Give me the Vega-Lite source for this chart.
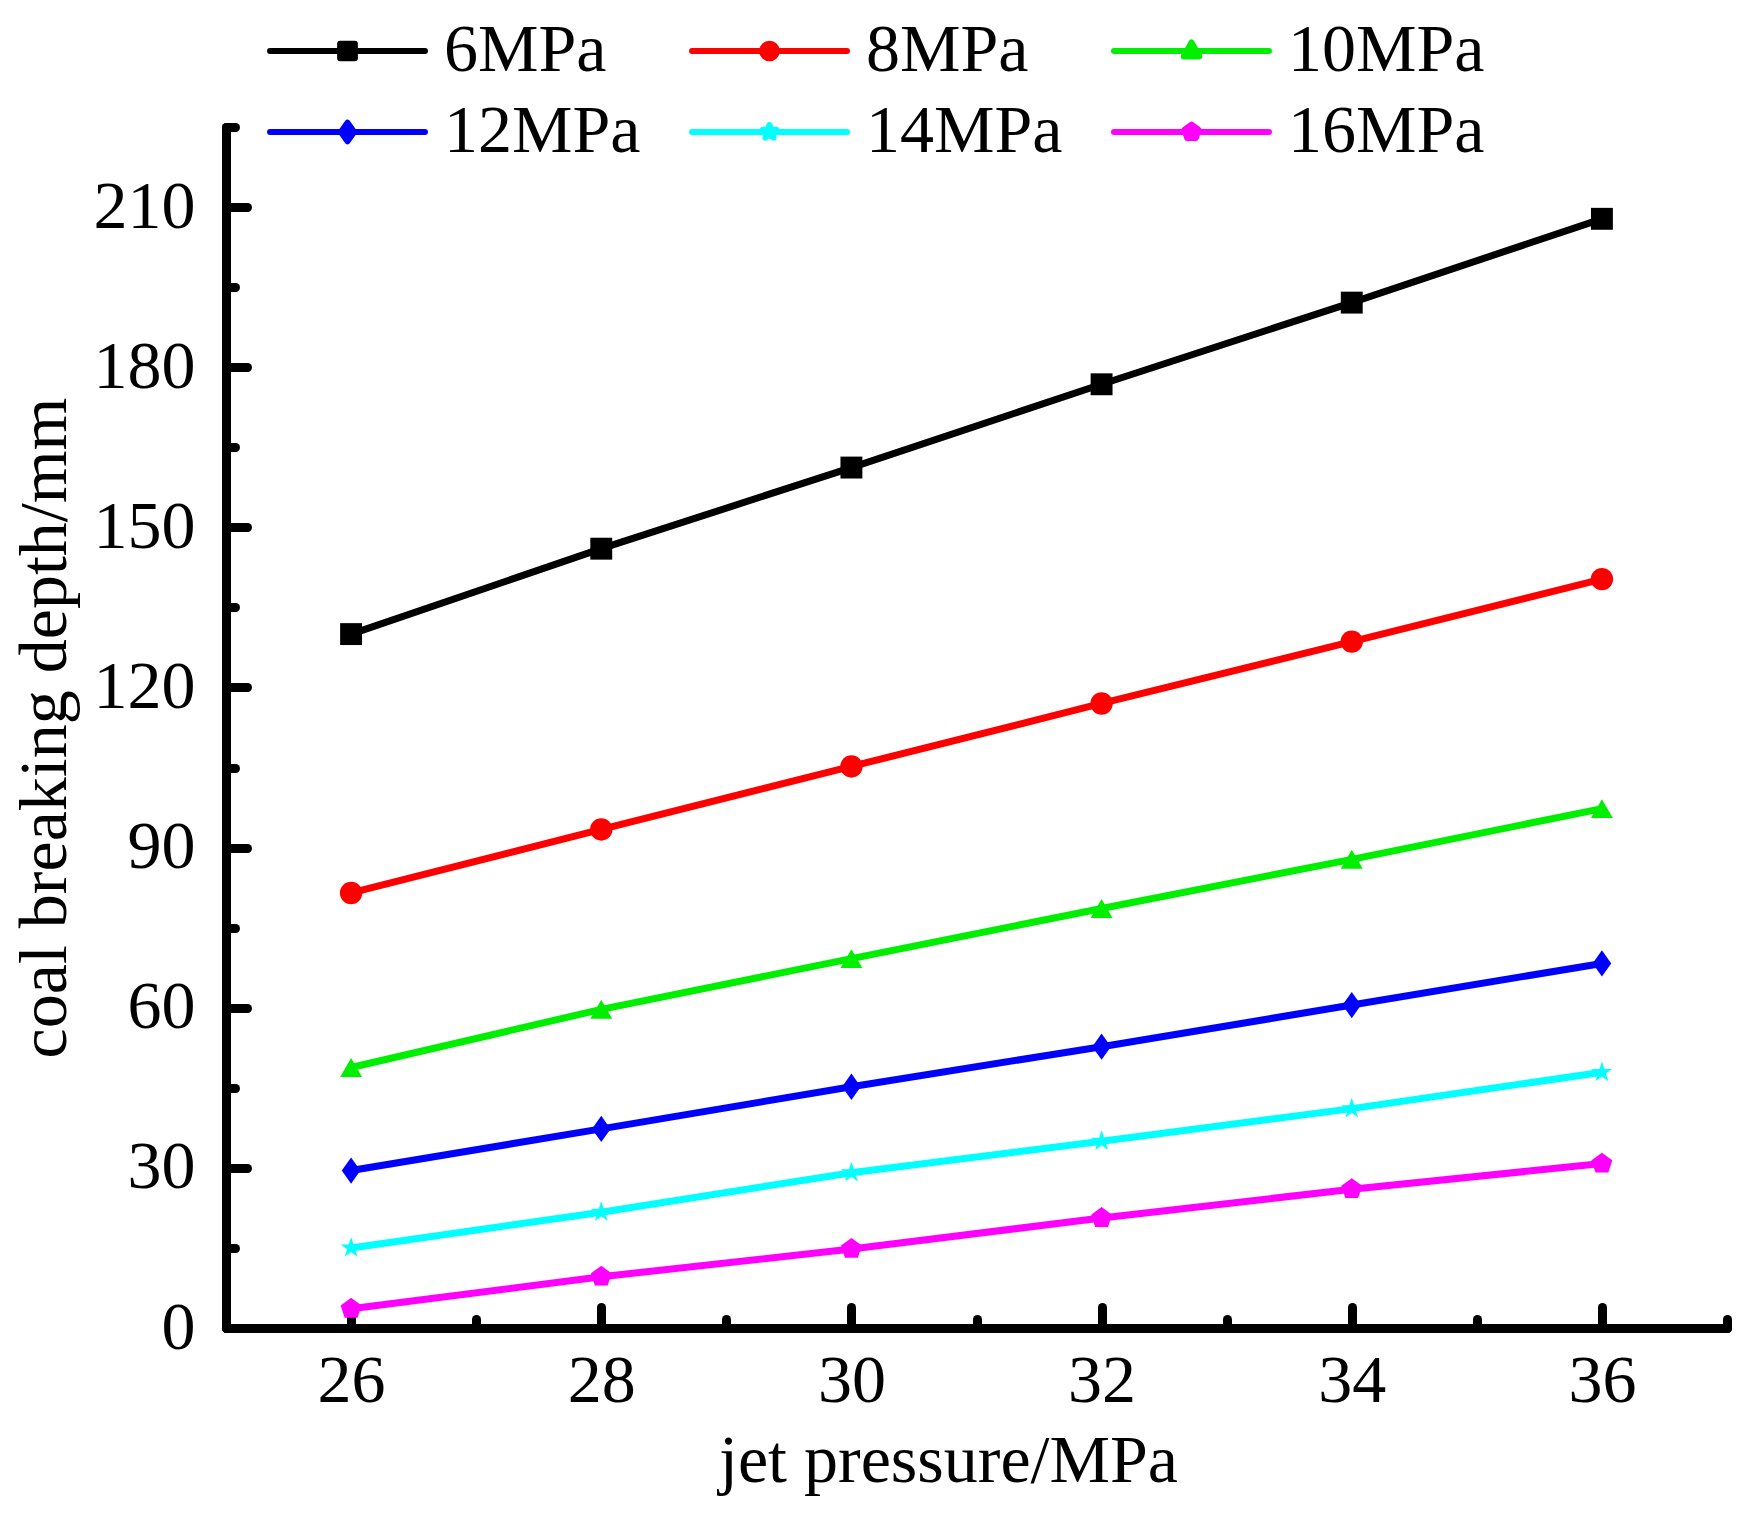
{
  "$schema": "https://vega.github.io/schema/vega-lite/v6.json",
  "width": 1501,
  "height": 1201,
  "autosize": "none",
  "padding": {"left": 226, "top": 127, "right": 28, "bottom": 199},
  "background": "white",
  "data": {
    "values": [
      {"p": 26, "depth": 130.0, "series": "6MPa"},
      {"p": 28, "depth": 146.0, "series": "6MPa"},
      {"p": 30, "depth": 161.2, "series": "6MPa"},
      {"p": 32, "depth": 176.8, "series": "6MPa"},
      {"p": 34, "depth": 192.1, "series": "6MPa"},
      {"p": 36, "depth": 207.8, "series": "6MPa"},
      {"p": 26, "depth": 81.5, "series": "8MPa"},
      {"p": 28, "depth": 93.4, "series": "8MPa"},
      {"p": 30, "depth": 105.2, "series": "8MPa"},
      {"p": 32, "depth": 117.0, "series": "8MPa"},
      {"p": 34, "depth": 128.6, "series": "8MPa"},
      {"p": 36, "depth": 140.3, "series": "8MPa"},
      {"p": 26, "depth": 48.8, "series": "10MPa"},
      {"p": 28, "depth": 59.7, "series": "10MPa"},
      {"p": 30, "depth": 69.2, "series": "10MPa"},
      {"p": 32, "depth": 78.6, "series": "10MPa"},
      {"p": 34, "depth": 87.8, "series": "10MPa"},
      {"p": 36, "depth": 97.3, "series": "10MPa"},
      {"p": 26, "depth": 29.5, "series": "12MPa"},
      {"p": 28, "depth": 37.3, "series": "12MPa"},
      {"p": 30, "depth": 45.2, "series": "12MPa"},
      {"p": 32, "depth": 52.7, "series": "12MPa"},
      {"p": 34, "depth": 60.5, "series": "12MPa"},
      {"p": 36, "depth": 68.3, "series": "12MPa"},
      {"p": 26, "depth": 15.0, "series": "14MPa"},
      {"p": 28, "depth": 21.7, "series": "14MPa"},
      {"p": 30, "depth": 29.1, "series": "14MPa"},
      {"p": 32, "depth": 35.0, "series": "14MPa"},
      {"p": 34, "depth": 41.1, "series": "14MPa"},
      {"p": 36, "depth": 47.9, "series": "14MPa"},
      {"p": 26, "depth": 3.6, "series": "16MPa"},
      {"p": 28, "depth": 9.6, "series": "16MPa"},
      {"p": 30, "depth": 14.8, "series": "16MPa"},
      {"p": 32, "depth": 20.6, "series": "16MPa"},
      {"p": 34, "depth": 26.0, "series": "16MPa"},
      {"p": 36, "depth": 30.8, "series": "16MPa"}
    ]
  },
  "encoding": {
    "x": {
      "field": "p",
      "type": "quantitative",
      "scale": {"domain": [25, 37], "nice": false, "zero": false},
      "axis": {
        "title": "jet pressure/MPa",
        "values": [26, 27, 28, 29, 30, 31, 32, 33, 34, 35, 36, 37],
        "labelExpr": "datum.value % 2 === 0 ? datum.label : ''",
        "tickSize": {"condition": {"test": "datum.value % 2 === 0", "value": -21}, "value": -9},
        "labelPadding": 40,
        "titlePadding": 12,
        "titleX": 722
      }
    },
    "y": {
      "field": "depth",
      "type": "quantitative",
      "scale": {"domain": [0, 225], "nice": false},
      "axis": {
        "title": "coal breaking depth/mm",
        "values": [0, 15, 30, 45, 60, 75, 90, 105, 120, 135, 150, 165, 180, 195, 210, 225],
        "labelExpr": "datum.value % 30 === 0 ? datum.label : ''",
        "tickSize": {"condition": {"test": "datum.value % 30 === 0", "value": -21}, "value": -9},
        "labelPadding": 52,
        "titlePadding": 14
      }
    }
  },
  "layer": [
    {
      "mark": {"type": "line", "strokeWidth": 7},
      "encoding": {
        "color": {
          "field": "series",
          "type": "nominal",
          "scale": {
            "domain": ["6MPa", "8MPa", "10MPa", "12MPa", "14MPa", "16MPa"],
            "range": ["#000000", "#ff0000", "#00ee00", "#0000ff", "#00ffff", "#ff00ff"]
          },
          "legend": {
            "title": null,
            "orient": "none",
            "direction": "horizontal",
            "legendX": 41,
            "legendY": -110,
            "columns": 3,
            "padding": 0,
            "columnPadding": 48,
            "rowPadding": 13,
            "clipHeight": 68,
            "labelFont": "Liberation Serif",
            "labelFontSize": 68,
            "labelColor": "black",
            "labelOffset": 16,
            "labelLimit": 0,
            "symbolSize": 24025,
            "symbolStrokeWidth": 6,
            "symbolOffset": 0,
            "encode": {
              "symbols": {
                "update": {
                  "shape": {"signal": "datum.value === '6MPa' ? 'M-1,0H1M-0.095,-0.095H0.095V0.095H-0.095Z' : datum.value === '8MPa' ? 'M-1,0H1M0.095,0A0.095,0.095 0 1,1 -0.095,0A0.095,0.095 0 1,1 0.095,0Z' : datum.value === '10MPa' ? 'M-1,0H1M0,-0.11L0.1,0.07L-0.1,0.07Z' : datum.value === '12MPa' ? 'M-1,0H1M0,-0.12L0.085,0L0,0.12L-0.085,0Z' : datum.value === '14MPa' ? 'M-1,0H1M0,-0.09L0.02,-0.028L0.086,-0.028L0.032,0.011L0.053,0.073L0,0.034L-0.053,0.073L-0.032,0.011L-0.086,-0.028L-0.02,-0.028Z' : 'M-1,0H1M0,-0.095L0.09,-0.03L0.056,0.077L-0.056,0.077L-0.09,-0.03Z'"},
                  "fill": {"signal": "scale('color', datum.value)"},
                  "stroke": {"signal": "scale('color', datum.value)"},
                  "strokeWidth": {"value": 6},
                  "strokeCap": {"value": "round"},
                  "strokeJoin": {"value": "round"},
                  "opacity": {"value": 1}
                }
              }
            }
          }
        }
      }
    },
    {
      "transform": [{"filter": "datum.series === '6MPa'"}],
      "mark": {"type": "point", "filled": true, "size": 480, "opacity": 1, "shape": "square", "color": "#000000"}
    },
    {
      "transform": [{"filter": "datum.series === '8MPa'"}],
      "mark": {"type": "point", "filled": true, "size": 500, "opacity": 1, "shape": "circle", "color": "#ff0000"}
    },
    {
      "transform": [{"filter": "datum.series === '10MPa'"}],
      "mark": {"type": "point", "filled": true, "size": 480, "opacity": 1, "shape": "triangle-up", "color": "#00ee00"}
    },
    {
      "transform": [{"filter": "datum.series === '12MPa'"}],
      "mark": {"type": "point", "filled": true, "size": 480, "opacity": 1, "shape": "M0,-1.2L0.85,0L0,1.2L-0.85,0Z", "color": "#0000ff"}
    },
    {
      "transform": [{"filter": "datum.series === '14MPa'"}],
      "mark": {"type": "point", "filled": true, "size": 480, "opacity": 1, "shape": "M0,-1L0.223,-0.307L0.951,-0.309L0.361,0.117L0.588,0.809L0,0.38L-0.588,0.809L-0.361,0.117L-0.951,-0.309L-0.223,-0.307Z", "color": "#00ffff"}
    },
    {
      "transform": [{"filter": "datum.series === '16MPa'"}],
      "mark": {"type": "point", "filled": true, "size": 480, "opacity": 1, "shape": "M0,-1L0.951,-0.309L0.588,0.809L-0.588,0.809L-0.951,-0.309Z", "color": "#ff00ff"}
    }
  ],
  "config": {
    "view": {"stroke": null},
    "font": "Liberation Serif",
    "axis": {
      "grid": false,
      "domainColor": "black",
      "domainWidth": 9,
      "domainCap": "round",
      "tickColor": "black",
      "tickWidth": 9,
      "tickCap": "round",
      "labelFont": "Liberation Serif",
      "labelFontSize": 68,
      "labelColor": "black",
      "titleFont": "Liberation Serif",
      "titleFontSize": 68,
      "titleFontWeight": "normal",
      "titleColor": "black"
    }
  }
}
